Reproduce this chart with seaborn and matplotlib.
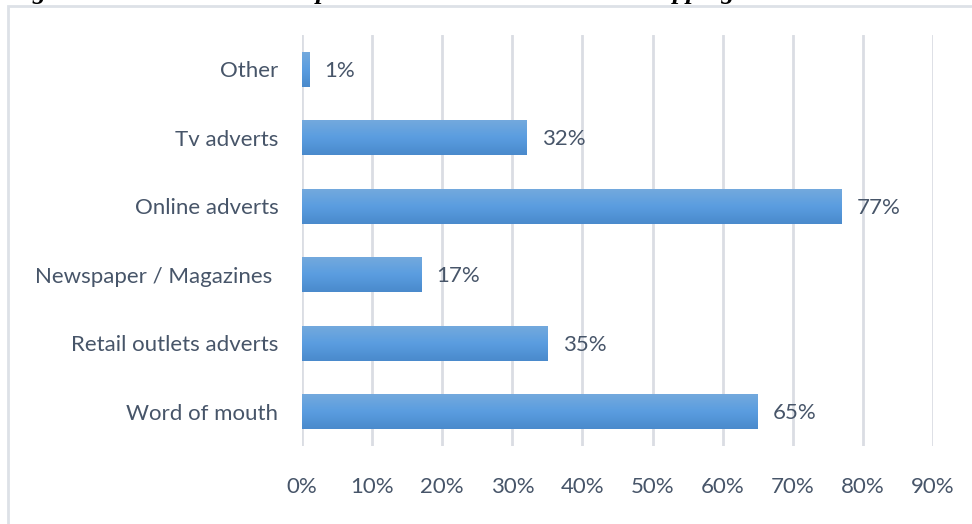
import numpy as np
import pandas as pd
import matplotlib
matplotlib.use("Agg")
import matplotlib.pyplot as plt
import seaborn as sns
from matplotlib.colors import LinearSegmentedColormap
from matplotlib.patches import Rectangle

categories = ["Other", "Tv adverts", "Online adverts", "Newspaper / Magazines ",
              "Retail outlets adverts", "Word of mouth"]
values = [1, 32, 77, 17, 35, 65]
xticks = [0, 10, 20, 30, 40, 50, 60, 70, 80, 90]
xtick_labels = [f"{t}%" for t in xticks]
caption = "Figure 3: Sources where respondents heard about online shopping"

sns.set_theme(style="white")
plt.rcParams["font.family"] = ["Lato", "DejaVu Sans"]

TXT = "#475569"
GRID = "#dadde3"

df = pd.DataFrame({"source": categories, "pct": values})

fig = plt.figure(figsize=(9.72, 5.24), dpi=100)
ax = fig.add_axes([302 / 972, 1 - 446 / 524, (933 - 302) / 972, (446 - 35) / 524])

sns.barplot(data=df, x="pct", y="source", orient="h", color="#5b9bd5",
            width=0.506, ax=ax, zorder=3)

# light at top, darker at bottom
cmap = LinearSegmentedColormap.from_list("g", ["#73a9dd", "#5a9de0", "#4a8acc"])
grad = np.linspace(0, 1, 64).reshape(-1, 1)
for p in ax.patches:
    x0, y0 = p.get_x(), p.get_y()
    w, h = p.get_width(), p.get_height()
    p.set_edgecolor("none")
    im = ax.imshow(grad, cmap=cmap, aspect="auto", origin="upper",
                   extent=[x0, x0 + w, y0 + h, y0], zorder=4, interpolation="bicubic")
    im.set_clip_path(p)

for p, v in zip(ax.patches, values):
    ax.annotate(f"{v}%", (p.get_x() + p.get_width(), p.get_y() + p.get_height() / 2),
                xytext=(11, -1), textcoords="offset points", ha="left", va="center",
                fontsize=16, color=TXT, zorder=5)

ax.set_xlim(0, 90)
ax.set_ylim(5.5, -0.5)
ax.set_xticks(xticks)
ax.set_xticklabels(xtick_labels)
ax.set_xlabel("")
ax.set_ylabel("")
ax.tick_params(axis="x", length=0, pad=22, labelsize=16, labelcolor=TXT)
ax.tick_params(axis="y", length=0, pad=17, labelsize=16, labelcolor=TXT)
for s in ax.spines.values():
    s.set_visible(False)
ax.xaxis.grid(True, color=GRID, linewidth=2, zorder=0)
ax.yaxis.grid(False)
ax.set_axisbelow(True)

# chart-area border (cropped at right and bottom)
fig.patches.append(Rectangle((8 / 972, -0.1), 1.1, (1 - 6 / 524) + 0.1,
                             transform=fig.transFigure, fill=False,
                             edgecolor="#dde1e7", linewidth=2))

# cropped caption above the chart (only its descenders show, as in the source)
fig.text(8 / 972, 1 + 1 / 524, caption, family="Liberation Serif", fontweight="bold",
         fontstyle="italic", fontsize=19, color="black", ha="left", va="baseline")

fig.savefig("out.png", dpi=100, facecolor="white")
